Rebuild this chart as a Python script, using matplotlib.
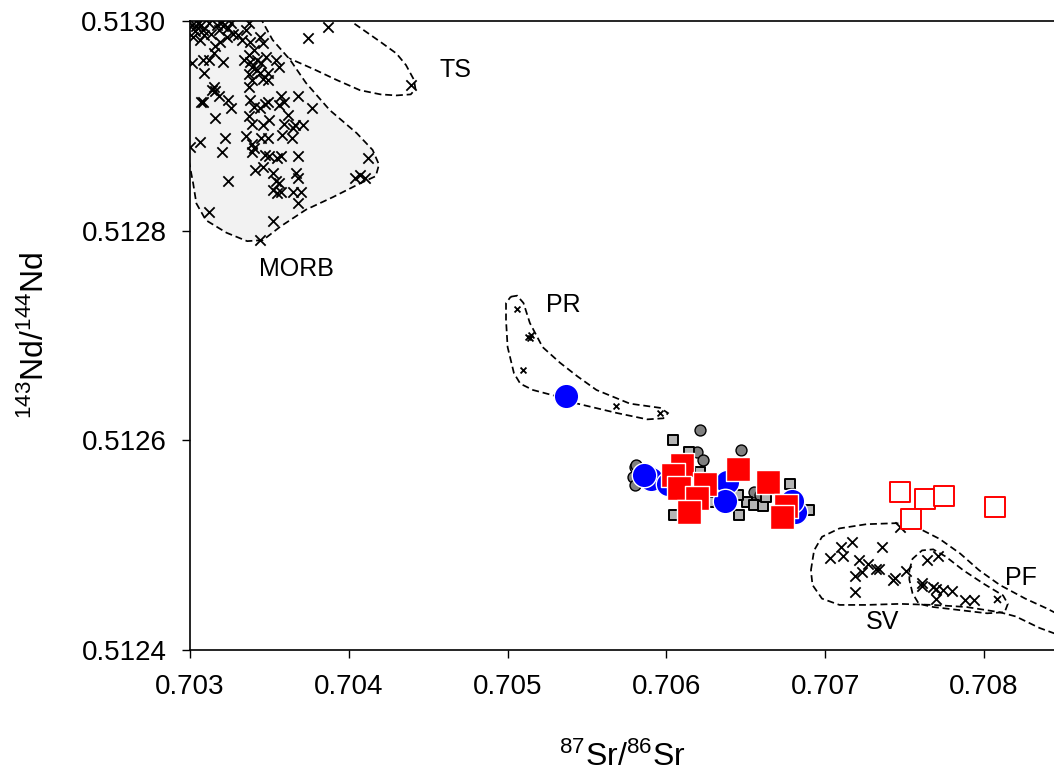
import numpy as np
import matplotlib
matplotlib.use("Agg")
import matplotlib.pyplot as plt
from matplotlib.patches import Polygon

plt.rcParams["font.family"] = ["Liberation Sans", "DejaVu Sans"]
plt.rcParams["mathtext.fontset"] = "custom"
plt.rcParams["mathtext.rm"] = "Liberation Sans"
plt.rcParams["mathtext.it"] = "Liberation Sans"

# --------- data (87Sr/86Sr, 143Nd/144Nd) ---------
morb = [
    (0.70301, 0.512996), (0.70304, 0.512995), (0.70307, 0.512996), (0.70303, 0.512990),
    (0.70308, 0.512991), (0.70302, 0.512985), (0.70306, 0.512982), (0.70309, 0.512987),
    (0.70313, 0.512988), (0.70320, 0.512999), (0.70321, 0.512995), (0.70318, 0.512991),
    (0.70324, 0.512993), (0.70327, 0.512988), (0.70323, 0.512985), (0.70319, 0.512980),
    (0.70316, 0.512976), (0.70315, 0.512969), (0.70312, 0.512963), (0.70337, 0.512998),
    (0.70335, 0.512991), (0.70330, 0.512987), (0.70333, 0.512982), (0.70338, 0.512980),
    (0.70344, 0.512985), (0.70346, 0.512979), (0.70340, 0.512972), (0.70337, 0.512968),
    (0.70301, 0.512960), (0.70308, 0.512963), (0.70309, 0.512950), (0.70321, 0.512961),
    (0.70334, 0.512963), (0.70338, 0.512961), (0.70342, 0.512963), (0.70345, 0.512960),
    (0.70339, 0.512956), (0.70342, 0.512953), (0.70344, 0.512950), (0.70337, 0.512949),
    (0.70339, 0.512944), (0.70346, 0.512945), (0.70349, 0.512950), (0.70348, 0.512966),
    (0.70354, 0.512963), (0.70356, 0.512956), (0.70349, 0.512944), (0.70315, 0.512937),
    (0.70314, 0.512934), (0.70316, 0.512933), (0.70307, 0.512923), (0.70308, 0.512923),
    (0.70318, 0.512928), (0.70324, 0.512925), (0.70326, 0.512917), (0.70316, 0.512907),
    (0.70337, 0.512937), (0.70338, 0.512925), (0.70340, 0.512918), (0.70344, 0.512917),
    (0.70347, 0.512921), (0.70349, 0.512923), (0.70357, 0.512928), (0.70359, 0.512923),
    (0.70356, 0.512920), (0.70368, 0.512928), (0.70377, 0.512917), (0.70337, 0.512909),
    (0.70339, 0.512902), (0.70346, 0.512901), (0.70350, 0.512906), (0.70359, 0.512902),
    (0.70362, 0.512910), (0.70366, 0.512901), (0.70371, 0.512901), (0.70365, 0.512898),
    (0.70300, 0.512880), (0.70306, 0.512885), (0.70322, 0.512888), (0.70320, 0.512875),
    (0.70335, 0.512890), (0.70339, 0.512883), (0.70340, 0.512879), (0.70345, 0.512888),
    (0.70349, 0.512888), (0.70358, 0.512891), (0.70364, 0.512888), (0.70339, 0.512875),
    (0.70347, 0.512872), (0.70350, 0.512871), (0.70355, 0.512869), (0.70357, 0.512871),
    (0.70368, 0.512871), (0.70341, 0.512858), (0.70346, 0.512861), (0.70352, 0.512855),
    (0.70367, 0.512855), (0.70368, 0.512850), (0.70324, 0.512847), (0.70354, 0.512847),
    (0.70356, 0.512845), (0.70352, 0.512839), (0.70355, 0.512836), (0.70357, 0.512837),
    (0.70365, 0.512837), (0.70370, 0.512837), (0.70368, 0.512826), (0.70412, 0.512869),
    (0.70404, 0.512850), (0.70407, 0.512853), (0.70410, 0.512850), (0.70312, 0.512818),
    (0.70352, 0.512809), (0.70344, 0.512791), (0.70305, 0.512998), (0.70312, 0.512998),
    (0.70326, 0.512998), (0.70317, 0.512996),
]
ts = [(0.70374, 0.512984), (0.70387, 0.512994), (0.70439, 0.512939)]
pr = [(0.70506, 0.512725), (0.70514, 0.512698), (0.70515, 0.512700), (0.70513, 0.512699),
      (0.70510, 0.512667), (0.70568, 0.512633), (0.70596, 0.512626)]
sv = [
    (0.70747, 0.512517), (0.70703, 0.512488), (0.70710, 0.512498), (0.70711, 0.512490),
    (0.70717, 0.512503), (0.70736, 0.512498), (0.70721, 0.512486), (0.70727, 0.512482),
    (0.70732, 0.512477), (0.70734, 0.512477), (0.70719, 0.512471), (0.70723, 0.512474),
    (0.70719, 0.512455), (0.70743, 0.512467), (0.70744, 0.512469), (0.70751, 0.512475),
]
pf = [
    (0.70764, 0.512486), (0.70771, 0.512490), (0.70761, 0.512464), (0.70761, 0.512461),
    (0.70768, 0.512460), (0.70770, 0.512458), (0.70770, 0.512449), (0.70774, 0.512457),
    (0.70780, 0.512456), (0.70788, 0.512448), (0.70794, 0.512448),
]
pf_small = [(0.70808, 0.512449)]

gray_circ = [
    (0.70621, 0.512610), (0.70647, 0.512591), (0.70619, 0.512589), (0.70623, 0.512581),
    (0.70580, 0.512575), (0.70581, 0.512576), (0.70579, 0.512565), (0.70580, 0.512557),
    (0.70655, 0.512551), (0.70659, 0.512548), (0.70643, 0.512549),
]
gray_sq = [
    (0.70604, 0.512600), (0.70614, 0.512589), (0.70621, 0.512570), (0.70605, 0.512529),
    (0.70627, 0.512541), (0.70678, 0.512558), (0.70690, 0.512534), (0.70646, 0.512529),
    (0.70651, 0.512541), (0.70655, 0.512538), (0.70661, 0.512537), (0.70663, 0.512546),
    (0.70645, 0.512548), (0.70680, 0.512541),
]
blue = [
    (0.70537, 0.512642), (0.70590, 0.512563), (0.70586, 0.512567), (0.70601, 0.512558),
    (0.70638, 0.512560), (0.70637, 0.512542), (0.70681, 0.512532), (0.70679, 0.512542),
]
red = [
    (0.70610, 0.512576), (0.70604, 0.512567), (0.70608, 0.512555), (0.70624, 0.512558),
    (0.70619, 0.512545), (0.70614, 0.512532), (0.70645, 0.512573), (0.70664, 0.512560),
    (0.70675, 0.512537), (0.70673, 0.512527),
]
red_open = [(0.70747, 0.512551), (0.70763, 0.512544), (0.70775, 0.512547),
            (0.70754, 0.512525), (0.70807, 0.512536)]

# field outlines
morb_field = [
    (0.70344, 0.513004), (0.70352, 0.512982), (0.70363, 0.512963), (0.70373, 0.512941),
    (0.70388, 0.512915), (0.70405, 0.512893), (0.70415, 0.512877), (0.70419, 0.512863),
    (0.70417, 0.512852), (0.70407, 0.512845), (0.70390, 0.512832), (0.70373, 0.512820),
    (0.70357, 0.512804), (0.70346, 0.512791), (0.70336, 0.512790), (0.70323, 0.512798),
    (0.70310, 0.512810), (0.70304, 0.512826), (0.70302, 0.512845), (0.70300, 0.512861),
    (0.70298, 0.512877), (0.70298, 0.513004),
]
ts_field = [
    (0.70400, 0.513006), (0.70403, 0.512998), (0.70420, 0.512980), (0.70430, 0.512969),
    (0.70436, 0.512958), (0.70441, 0.512944), (0.70442, 0.512935), (0.70439, 0.512930),
    (0.70430, 0.512929), (0.70420, 0.512930), (0.70407, 0.512934), (0.70392, 0.512944),
    (0.70378, 0.512954), (0.70363, 0.512964), (0.70340, 0.512975), (0.70340, 0.513010),
    (0.70400, 0.513010),
]
pr_field = [
    (0.70502, 0.512737), (0.70506, 0.512738), (0.70510, 0.512731), (0.70514, 0.512712),
    (0.70522, 0.512689), (0.70533, 0.512674), (0.70544, 0.512661), (0.70556, 0.512648),
    (0.70577, 0.512635), (0.70596, 0.512631), (0.70601, 0.512626), (0.70598, 0.512621),
    (0.70588, 0.512620), (0.70569, 0.512626), (0.70544, 0.512635), (0.70531, 0.512642),
    (0.70516, 0.512648), (0.70508, 0.512654), (0.70504, 0.512664), (0.70500, 0.512689),
    (0.70499, 0.512715), (0.70499, 0.512731),
]
sv_field = [
    (0.70691, 0.512476), (0.70693, 0.512495), (0.70698, 0.512508), (0.70709, 0.512516),
    (0.70726, 0.512520), (0.70745, 0.512521), (0.70759, 0.512516), (0.70772, 0.512506),
    (0.70785, 0.512492), (0.70797, 0.512476), (0.70810, 0.512462), (0.70826, 0.512449),
    (0.70839, 0.512440), (0.70852, 0.512430), (0.70858, 0.512419), (0.70852, 0.512413),
    (0.70844, 0.512416), (0.70835, 0.512421), (0.70820, 0.512432), (0.70810, 0.512436),
    (0.70789, 0.512441), (0.70768, 0.512443), (0.70747, 0.512444), (0.70726, 0.512443),
    (0.70709, 0.512443), (0.70698, 0.512449), (0.70692, 0.512462),
]
pf_field = [
    (0.70753, 0.512476), (0.70755, 0.512487), (0.70761, 0.512495), (0.70768, 0.512496),
    (0.70776, 0.512489), (0.70787, 0.512476), (0.70800, 0.512463), (0.70812, 0.512452),
    (0.70815, 0.512444), (0.70813, 0.512436), (0.70802, 0.512435), (0.70785, 0.512438),
    (0.70768, 0.512441), (0.70759, 0.512444), (0.70755, 0.512454), (0.70753, 0.512467),
]

field_labels = ["TS", "MORB", "PR", "SV", "PF"]
label_pos = [(0.70467, 0.512953), (0.70367, 0.512763), (0.70535, 0.512729),
             (0.70736, 0.512427), (0.70823, 0.512469)]

x_ticks = [0.703, 0.704, 0.705, 0.706, 0.707, 0.708]
y_ticks = [0.5124, 0.5126, 0.5128, 0.5130]

# --------- plot ---------
fig = plt.figure(figsize=(10.54, 7.79), dpi=100)
ax = fig.add_axes([190 / 1054, 129 / 779, 864 / 1054, 629 / 779])

dash = (0, (4, 2.2))
ax.add_patch(Polygon(ts_field, closed=True, fill=False, ec="black", lw=1.25, ls=dash, zorder=1))
ax.add_patch(Polygon(morb_field, closed=True, fc="#f2f2f2", ec="black", lw=1.25, ls=dash, zorder=2))
for fld in [pr_field, sv_field, pf_field]:
    ax.add_patch(Polygon(fld, closed=True, fill=False, ec="black", lw=1.25, ls=dash, zorder=2))

def xs(pts):
    a = np.array(pts)
    return a[:, 0], a[:, 1]

for grp, size in [(morb, 55), (ts, 55), (sv, 55), (pf, 55), (pr, 18), (pf_small, 25)]:
    x, y = xs(grp)
    ax.scatter(x, y, marker="x", s=size, c="black", linewidths=1.3, zorder=3)

x, y = xs(gray_circ)
ax.scatter(x, y, marker="o", s=62, c="#808080", edgecolors="black", linewidths=1.0, zorder=4)
x, y = xs(gray_sq)
ax.scatter(x, y, marker="s", s=42, c="#b4b4b4", edgecolors="black", linewidths=1.4, zorder=4)
x, y = xs(blue)
ax.scatter(x, y, marker="o", s=310, c="#0000ff", edgecolors="white", linewidths=1.0, zorder=5)
x, y = xs(red)
ax.scatter(x, y, marker="s", s=300, c="#ff0000", edgecolors="white", linewidths=1.0, zorder=6)
x, y = xs(red_open)
ax.scatter(x, y, marker="s", s=190, facecolors="white", edgecolors="#ff0000", linewidths=1.4, zorder=6)

for lab, (lx, ly) in zip(field_labels, label_pos):
    ax.text(lx, ly, lab, fontsize=18, ha="center", va="center", zorder=7)

ax.set_xlim(0.703, 0.703 + 864 / 158800)
ax.set_ylim(0.5124, 0.5130)
ax.set_xticks(x_ticks)
ax.set_xticklabels([f"{v:.3f}" for v in x_ticks])
ax.set_yticks(y_ticks)
ax.set_yticklabels([f"{v:.4f}" for v in y_ticks])
ax.tick_params(axis="x", direction="out", length=6, width=1, labelsize=20, pad=11)
ax.tick_params(axis="y", direction="out", length=6, width=1, labelsize=20, pad=11)
ax.spines["right"].set_visible(False)
for s in ["left", "bottom", "top"]:
    ax.spines[s].set_linewidth(1.2)

ax.set_xlabel(r"$^{87}\mathrm{Sr}/^{86}\mathrm{Sr}$", fontsize=23, labelpad=30)
ax.set_ylabel(r"$^{143}\mathrm{Nd}/^{144}\mathrm{Nd}$", fontsize=23, labelpad=22)

fig.savefig("out.png", dpi=100)
